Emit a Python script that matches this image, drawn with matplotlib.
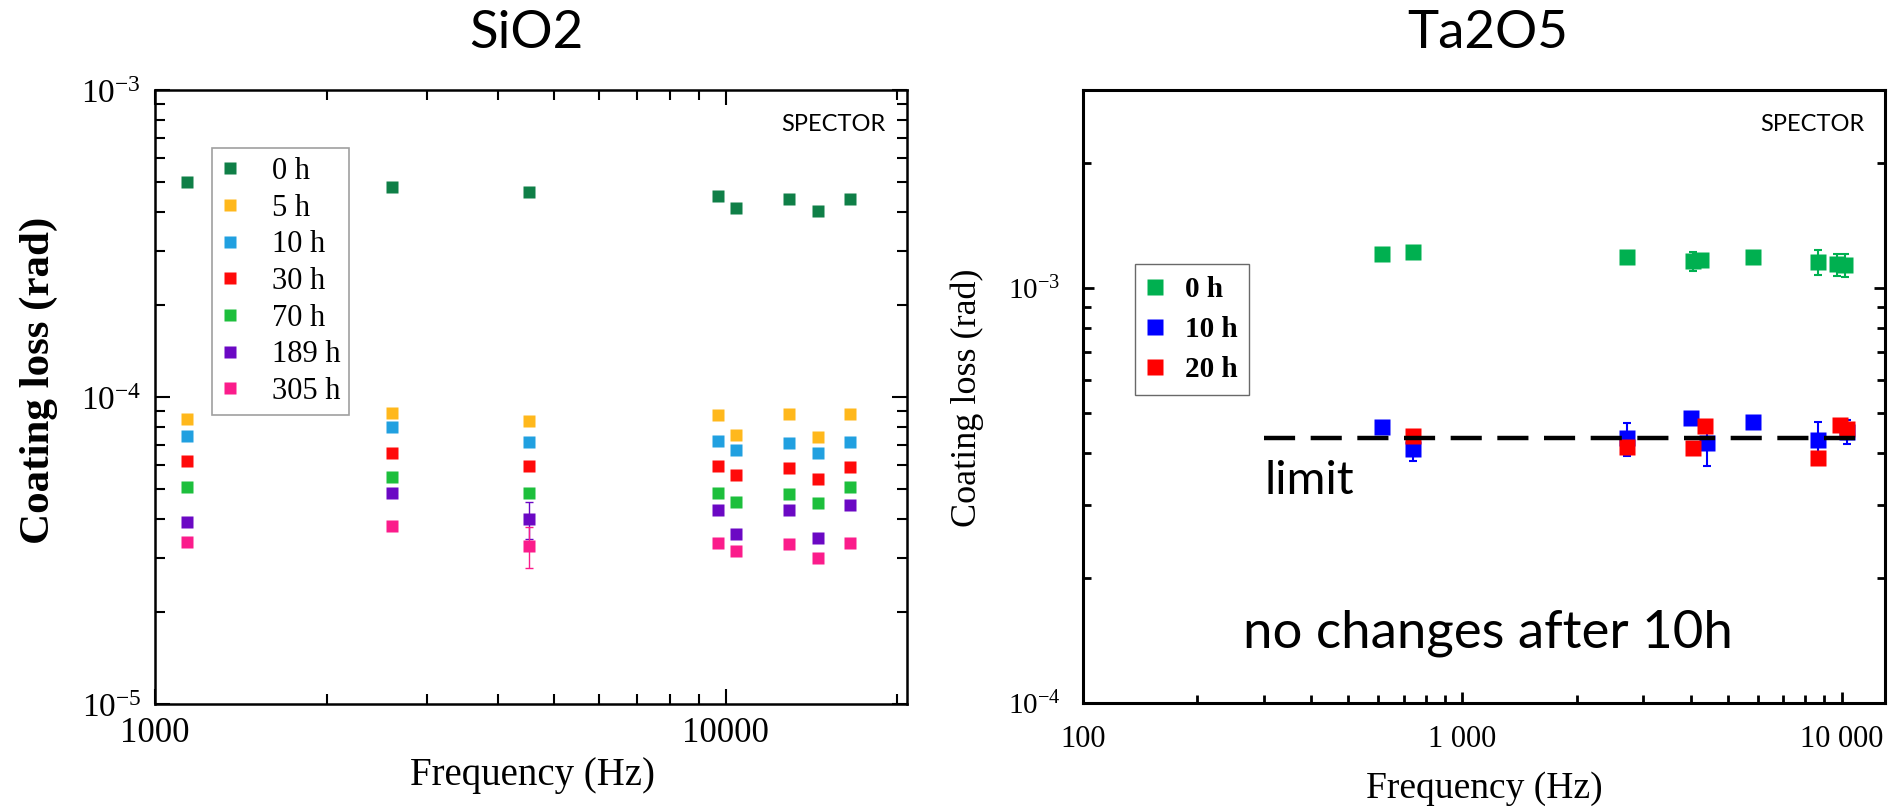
import matplotlib
matplotlib.use('Agg')
import matplotlib.pyplot as plt
from matplotlib.ticker import FixedLocator, FixedFormatter, NullFormatter

# ---- data: SiO2 (left) ----
sio2_freq = [1140, 2600, 4530, 9700, 10450, 12900, 14500, 16500]
sio2_labels = ['0 h', '5 h', '10 h', '30 h', '70 h', '189 h', '305 h']
sio2_colors = ['#0f7f47', '#ffb81c', '#21a0e0', '#ff0a0a', '#1dbf3c', '#6b08c4', '#fb1c8b']
sio2_0h = [5.0e-4, 4.83e-4, 4.66e-4, 4.52e-4, 4.14e-4, 4.41e-4, 4.03e-4, 4.41e-4]
sio2_5h = [8.47e-5, 8.89e-5, 8.37e-5, 8.71e-5, 7.50e-5, 8.77e-5, 7.43e-5, 8.83e-5]
sio2_10h = [7.48e-5, 7.98e-5, 7.13e-5, 7.21e-5, 6.70e-5, 7.09e-5, 6.59e-5, 7.11e-5]
sio2_30h = [6.19e-5, 6.56e-5, 5.95e-5, 5.95e-5, 5.56e-5, 5.86e-5, 5.42e-5, 5.92e-5]
sio2_70h = [5.09e-5, 5.49e-5, 4.85e-5, 4.86e-5, 4.54e-5, 4.82e-5, 4.51e-5, 5.08e-5]
sio2_189h = [3.93e-5, 4.86e-5, 4.00e-5, 4.29e-5, 3.57e-5, 4.28e-5, 3.47e-5, 4.44e-5]
sio2_305h = [3.36e-5, 3.79e-5, 3.28e-5, 3.35e-5, 3.15e-5, 3.33e-5, 2.99e-5, 3.34e-5]
sio2_189h_err = [0, 0, 0.55e-5, 0, 0, 0, 0, 0]
sio2_305h_err = [0, 0, 0.5e-5, 0, 0, 0, 0, 0]

# ---- data: Ta2O5 (right) ----
ta_labels = ['0 h', '10 h', '20 h']
ta_colors = ['#00b050', '#0000ff', '#ff0000']
ta_0h_freq = [615, 743, 2720, 4050, 4250, 5830, 8670, 9700, 10200]
ta_0h = [1.21e-3, 1.22e-3, 1.19e-3, 1.16e-3, 1.17e-3, 1.19e-3, 1.155e-3, 1.14e-3, 1.135e-3]
ta_0h_err = [0, 0, 0, 0.06e-3, 0.03e-3, 0, 0.08e-3, 0.07e-3, 0.07e-3]
ta_10h_freq = [615, 743, 2720, 4000, 4400, 5830, 8670, 10300]
ta_10h = [4.63e-4, 4.09e-4, 4.34e-4, 4.85e-4, 4.22e-4, 4.75e-4, 4.31e-4, 4.50e-4]
ta_10h_err = [0, 0.25e-4, 0.4e-4, 0, 0.5e-4, 0, 0.45e-4, 0.3e-4]
ta_20h_freq = [743, 2720, 4050, 4350, 8670, 9900, 10300]
ta_20h = [4.40e-4, 4.13e-4, 4.11e-4, 4.66e-4, 3.89e-4, 4.67e-4, 4.57e-4]
limit_freq = [300, 11200]
limit_value = 4.35e-4

W, H = 1903, 808
serif = 'Liberation Serif'
thin = {'family': 'Lato', 'weight': 'normal', 'color': 'black'}

plt.rcParams['mathtext.fontset'] = 'custom'
plt.rcParams['mathtext.rm'] = serif
plt.rcParams['mathtext.it'] = serif
plt.rcParams['legend.fancybox'] = False

fig = plt.figure(figsize=(W / 100, H / 100), dpi=100)

# ------------------------------------------------------------ left: SiO2
ax1 = fig.add_axes([155 / W, (H - 704) / H, 752 / W, 614 / H])
ax1.set_xscale('log')
ax1.set_yscale('log')

sio2_series = [sio2_0h, sio2_5h, sio2_10h, sio2_30h, sio2_70h, sio2_189h, sio2_305h]
for vals, lab, col in zip(sio2_series, sio2_labels, sio2_colors):
    ax1.plot(sio2_freq, vals, 's', ms=9, color=col, mec='none', label=lab)
ax1.errorbar(sio2_freq, sio2_189h, yerr=sio2_189h_err, fmt='none', ecolor=sio2_colors[5],
             elinewidth=1, capsize=3, zorder=1)
ax1.errorbar(sio2_freq, sio2_305h, yerr=sio2_305h_err, fmt='none', ecolor=sio2_colors[6],
             elinewidth=1, capsize=3, zorder=1)

ax1.set_xlim(1000, 20800)
ax1.set_ylim(1e-5, 1e-3)
ax1.xaxis.set_major_locator(FixedLocator([1000, 10000]))
ax1.xaxis.set_major_formatter(FixedFormatter(['1000', '10000']))
ax1.xaxis.set_minor_locator(FixedLocator([2000, 3000, 4000, 5000, 6000, 7000, 8000, 9000, 20000]))
ax1.xaxis.set_minor_formatter(NullFormatter())
ax1.yaxis.set_major_locator(FixedLocator([1e-5, 1e-4, 1e-3]))
ax1.yaxis.set_major_formatter(FixedFormatter([r'$10^{-5}$', r'$10^{-4}$', r'$10^{-3}$']))
ax1.yaxis.set_minor_locator(FixedLocator([k * 1e-5 for k in range(2, 10)] + [k * 1e-4 for k in range(2, 10)]))
ax1.yaxis.set_minor_formatter(NullFormatter())
ax1.tick_params(which='both', direction='in', top=True, right=True, width=1.5)
ax1.tick_params(which='major', length=11)
ax1.tick_params(which='minor', length=7)
ax1.tick_params(axis='x', labelsize=25, pad=9)
ax1.tick_params(axis='y', labelsize=24, pad=10)
for lab in ax1.get_xticklabels():
    lab.set_family(serif)
for sp in ax1.spines.values():
    sp.set_linewidth(1.8)

leg1 = ax1.legend(loc='upper left', bbox_to_anchor=(0.0758, 0.9055), borderaxespad=0,
                  prop={'family': serif, 'size': 22}, borderpad=0.3, handlelength=0.6,
                  handletextpad=1.05, labelspacing=0.25, numpoints=1)
leg1.get_frame().set_edgecolor('#888888')
leg1.get_frame().set_linewidth(1.2)

ax1.text(0.971, 0.943, 'SPECTOR', transform=ax1.transAxes, ha='right', va='center',
         fontsize=17, **thin)

# ------------------------------------------------------------ right: Ta2O5
ax2 = fig.add_axes([1083 / W, (H - 703) / H, 802 / W, 613 / H])
ax2.set_xscale('log')
ax2.set_yscale('log')

ax2.plot(limit_freq, [limit_value, limit_value], color='black', lw=3.2,
         linestyle=(0, (7, 3.5)), zorder=4)
h0 = ax2.errorbar(ta_0h_freq, ta_0h, yerr=ta_0h_err, fmt='s', ms=11, color=ta_colors[0],
                  mec='none', elinewidth=1.5, capsize=3, capthick=1.5, zorder=2)
h10 = ax2.errorbar(ta_10h_freq, ta_10h, yerr=ta_10h_err, fmt='s', ms=11, color=ta_colors[1],
                   mec='none', elinewidth=1.5, capsize=3, capthick=1.5, zorder=3)
h20, = ax2.plot(ta_20h_freq, ta_20h, 's', ms=11, color=ta_colors[2], mec='none', zorder=3.5)

ax2.set_xlim(100, 13000)
ax2.set_ylim(1e-4, 3e-3)
ax2.xaxis.set_major_locator(FixedLocator([100, 1000, 10000]))
ax2.xaxis.set_major_formatter(FixedFormatter(['100', '1 000', '10 000']))
ax2.xaxis.set_minor_locator(FixedLocator([k * 100 for k in range(2, 10)] + [k * 1000 for k in range(2, 10)]))
ax2.xaxis.set_minor_formatter(NullFormatter())
ax2.yaxis.set_major_locator(FixedLocator([1e-4, 1e-3]))
ax2.yaxis.set_major_formatter(FixedFormatter([r'$10^{-4}$', r'$10^{-3}$']))
ax2.yaxis.set_minor_locator(FixedLocator([k * 1e-4 for k in range(2, 10)] + [2e-3]))
ax2.yaxis.set_minor_formatter(NullFormatter())
ax2.tick_params(which='both', direction='in', top=False, right=True, width=2)
ax2.tick_params(which='major', length=8)
ax2.tick_params(which='minor', length=6)
ax2.tick_params(axis='x', labelsize=22, pad=16)
ax2.tick_params(axis='y', labelsize=21, pad=16)
for lab in ax2.get_xticklabels():
    lab.set_family(serif)
for sp in ax2.spines.values():
    sp.set_linewidth(2.2)

# legend markers only, no error bars
leg_h0, = ax2.plot([], [], 's', ms=11, color=ta_colors[0], mec='none')
leg_h10, = ax2.plot([], [], 's', ms=11, color=ta_colors[1], mec='none')
leg2 = ax2.legend([leg_h0, leg_h10, h20], ta_labels, loc='upper left',
                  bbox_to_anchor=(0.0648, 0.716), borderaxespad=0,
                  prop={'family': serif, 'size': 21, 'weight': 'bold'}, borderpad=0.4,
                  handlelength=0.6, handletextpad=0.7, labelspacing=0.45, numpoints=1)
leg2.get_frame().set_edgecolor('#444444')
leg2.get_frame().set_linewidth(1.0)

ax2.text(0.975, 0.943, 'SPECTOR', transform=ax2.transAxes, ha='right', va='center',
         fontsize=17, **thin)
ax2.text(300, 3.43e-4, 'limit', ha='left', va='center', fontsize=34, **thin)
ax2.text(0.505, 0.114, 'no changes after 10h', transform=ax2.transAxes, ha='center',
         va='center', fontsize=38, **thin)

# ------------------------------------------------------------ titles and axis labels
fig.text(526 / W, 1 - 33 / H, 'SiO2', ha='center', va='center', fontsize=38, **thin)
fig.text(1488 / W, 1 - 33 / H, 'Ta2O5', ha='center', va='center', fontsize=38, **thin)
fig.text(39 / W, 1 - 380 / H, 'Coating loss (rad)', rotation=90, ha='center', va='center',
         family=serif, fontsize=31, weight='bold')
fig.text(967 / W, 1 - 398 / H, 'Coating loss (rad)', rotation=90, ha='center', va='center',
         family=serif, fontsize=26)
fig.text(532 / W, 1 - 775 / H, 'Frequency (Hz)', ha='center', va='center',
         family=serif, fontsize=28)
fig.text(1484 / W, 1 - 789 / H, 'Frequency (Hz)', ha='center', va='center',
         family=serif, fontsize=27)

fig.savefig('out.png', dpi=100)
